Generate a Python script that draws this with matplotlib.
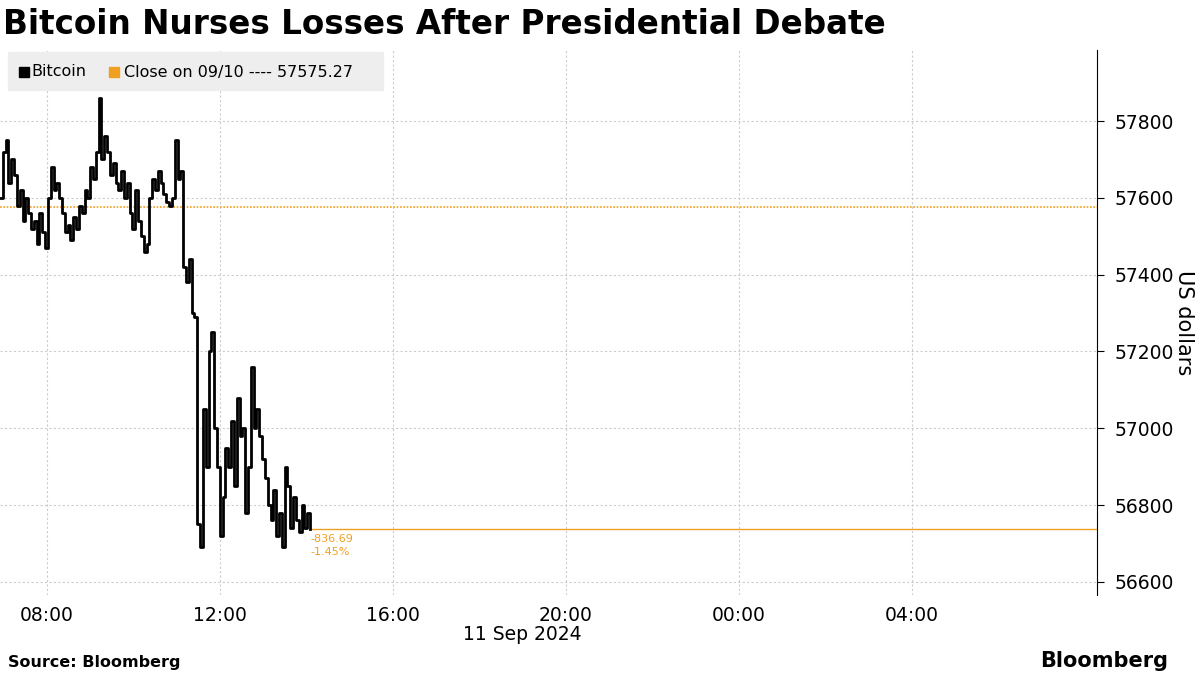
import matplotlib
matplotlib.use("Agg")
import matplotlib.pyplot as plt
import numpy as np

prices = [57600, 57720, 57750, 57640, 57700, 57660, 57580, 57620, 57540, 57600, 57560,
          57520, 57540, 57480, 57560, 57510, 57470, 57600, 57680, 57620, 57640,
          57600, 57560, 57510, 57530, 57490, 57550, 57520, 57580, 57560, 57620,
          57600, 57680, 57650, 57720, 57860, 57700, 57760, 57720,
          57660, 57690, 57640, 57620, 57670, 57600, 57640, 57560, 57520, 57620, 57540, 57500, 57460, 57480,
          57600, 57650, 57620, 57670, 57640, 57610, 57590, 57580, 57600, 57750, 57650, 57670,
          57420, 57380, 57440, 57300, 57290,
          56750, 56690, 57050, 56900, 57200, 57250, 57000,
          56900, 56720, 56820, 56950, 56900, 57020, 56850, 57080, 56980, 57000, 56780, 56900, 57160, 57000, 57050,
          56980, 56920, 56870, 56800, 56760, 56840, 56720, 56780, 56690, 56900, 56850, 56740,
          56820, 56760, 56730, 56800, 56740, 56780, 56738.58]
start_hour = 6 + 55/60
end_hour = 14 + 5/60
prev_close = 57575.27
change = -836.69
pct = -1.45
xticks = [8, 12, 16, 20, 24, 28]
xtick_labels = ["08:00", "12:00", "16:00", "20:00", "00:00", "04:00"]
yticks = [56600, 56800, 57000, 57200, 57400, 57600, 57800]

hours = np.linspace(start_hour, end_hour, len(prices))
orange = "#f0a020"

fig = plt.figure(figsize=(12, 6.75), dpi=100)
ax = fig.add_axes([0, 1 - 595/675, 1097/1200, 545/675])
xmax = 8 + 1050/43.25
ax.set_xlim(start_hour, xmax)
ax.set_ylim(56566, 57985)

ax.plot(hours, prices, drawstyle="steps-post", color="black", lw=2, zorder=3)
ax.axhline(prev_close, color=orange, lw=1.2, ls=(0, (1, 1)), zorder=2)
ax.plot([hours[-1], xmax], [prices[-1], prices[-1]], color=orange, lw=1, zorder=2)
ax.text(hours[-1] + 0.02, prices[-1] - 15, f"{change:.2f}\n{pct:.2f}%", color=orange,
        fontsize=8, va="top", ha="left", linespacing=1.3)

ax.set_xticks(xticks)
ax.set_xticklabels(xtick_labels)
ax.set_yticks(yticks)
ax.set_yticklabels([str(v) for v in yticks])
ax.yaxis.tick_right()
ax.tick_params(axis="both", labelsize=13.5, length=0, pad=8)
ax.tick_params(axis="y", length=5, direction="out", pad=8)
ax.grid(True, color="#cccccc", ls=(0, (2, 2)), lw=0.8)
for s in ["top", "left", "bottom"]:
    ax.spines[s].set_visible(False)
ax.spines["right"].set_color("black")
fig.text(1184/1200, 1 - 323/675, "US dollars", fontsize=15, rotation=270, ha="center", va="center")

from matplotlib.patches import Rectangle
fig.patches.append(Rectangle((8/1200, 1 - 90/675), 375/1200, 38/675, transform=fig.transFigure,
                             color="#eeeeee", zorder=5))
fig.patches.append(Rectangle((19/1200, 1 - 77/675), 10/1200, 10/675, transform=fig.transFigure,
                             color="black", zorder=6))
fig.text(31/1200, 1 - 72/675, "Bitcoin", fontsize=11.5, va="center", zorder=7)
fig.patches.append(Rectangle((109/1200, 1 - 77/675), 10/1200, 10/675, transform=fig.transFigure,
                             color=orange, zorder=6))
fig.text(124/1200, 1 - 72/675, f"Close on 09/10 ---- {prev_close:.2f}", fontsize=11.5, va="center", zorder=7)

fig.text(3/1200, 1 - 24/675, "Bitcoin Nurses Losses After Presidential Debate", fontsize=23.5,
         fontweight="bold", va="center")
fig.text(522/1200, 1 - 635/675, "11 Sep 2024", fontsize=13.5, ha="center", va="center")
fig.text(8/1200, 1 - 662/675, "Source: Bloomberg", fontsize=11.5, fontweight="bold", va="center")
fig.text(1168/1200, 1 - 661/675, "Bloomberg", fontsize=15, fontweight="bold", va="center", ha="right")
fig.savefig("out.png", dpi=100)
